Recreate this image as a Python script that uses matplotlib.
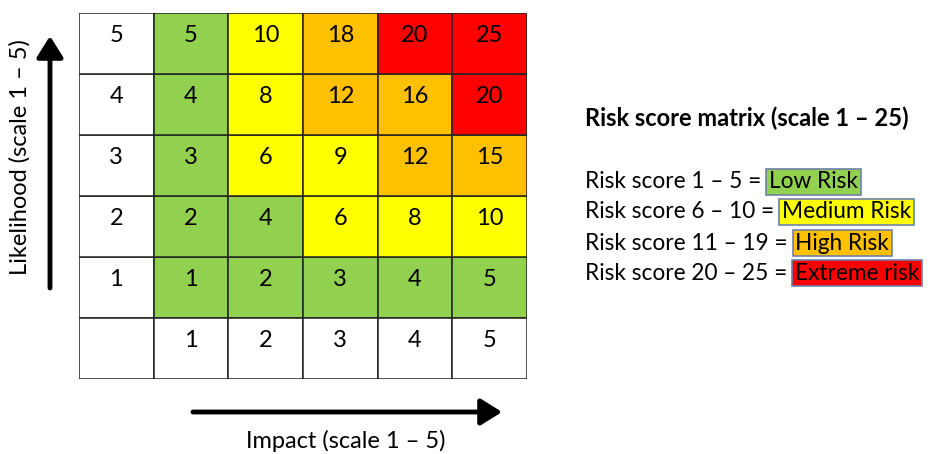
import matplotlib
matplotlib.use("Agg")
import matplotlib.pyplot as plt
from matplotlib.patches import Rectangle, FancyArrowPatch

plt.rcParams['font.family'] = ['Lato', 'DejaVu Sans']

impact = [1, 2, 3, 4, 5]
likelihood = [1, 2, 3, 4, 5]
# scores by likelihood row (1 at bottom .. 5 at top), columns impact 1..5
scores = [
    [1, 2, 3, 4, 5],
    [2, 4, 6, 8, 10],
    [3, 6, 9, 12, 15],
    [4, 8, 12, 16, 20],
    [5, 10, 18, 20, 25],
]
band_labels = ["Low Risk", "Medium Risk", "High Risk", "Extreme risk"]
band_ranges = ["1 – 5", "6 – 10", "11 – 19", "20 – 25"]
band_max = [5, 10, 19, 25]
band_colors = ["#92D050", "#FFFF00", "#FFC000", "#FF0000"]

def color_for(s):
    for m, c in zip(band_max, band_colors):
        if s <= m:
            return c
    return band_colors[-1]

W, H = 931, 454
fig = plt.figure(figsize=(W / 100, H / 100), dpi=100)

x0, x1, y0, y1 = 79, 527, 13, 379
ax = fig.add_axes([x0 / W, 1 - y1 / H, (x1 - x0) / W, (y1 - y0) / H])
ax.set_xlim(0, 6)
ax.set_ylim(0, 6)
ax.axis('off')

fs = 17
edge = "#222222"
for i, lk in enumerate(likelihood):
    row = i + 1
    ax.add_patch(Rectangle((0, row), 1, 1, facecolor='white', edgecolor=edge, lw=1.1))
    ax.text(0.5, row + 0.63, str(lk), ha='center', va='center', fontsize=fs)
    for j, s in enumerate(scores[i]):
        ax.add_patch(Rectangle((j + 1, row), 1, 1, facecolor=color_for(s), edgecolor=edge, lw=1.1))
        ax.text(j + 1.5, row + 0.63, str(s), ha='center', va='center', fontsize=fs)
ax.add_patch(Rectangle((0, 0), 1, 1, facecolor='white', edgecolor=edge, lw=1.1))
for j, im in enumerate(impact):
    ax.add_patch(Rectangle((j + 1, 0), 1, 1, facecolor='white', edgecolor=edge, lw=1.1))
    ax.text(j + 1.5, 0.63, str(im), ha='center', va='center', fontsize=fs)

oa = fig.add_axes([0, 0, 1, 1])
oa.set_xlim(0, W)
oa.set_ylim(H, 0)
oa.axis('off')
oa.patch.set_alpha(0)

oa.add_patch(FancyArrowPatch((50, 288), (50, 36), arrowstyle='-|>,head_length=8,head_width=5',
                             lw=3.5, color='black', mutation_scale=1.6, shrinkA=0, shrinkB=0))
oa.add_patch(FancyArrowPatch((193, 412), (502, 412), arrowstyle='-|>,head_length=8,head_width=5',
                             lw=3.5, color='black', mutation_scale=1.6, shrinkA=0, shrinkB=0))

oa.text(20, 157, "Likelihood (scale 1 – 5)", rotation=90, ha='center', va='center', fontsize=fs)
oa.text(346, 441, "Impact (scale 1 – 5)", ha='center', va='center', fontsize=fs)

oa.text(585, 118, "Risk score matrix (scale 1 – 25)", ha='left', va='center',
        fontsize=17, fontweight='bold')
lfs = 16.3
ys = [182, 212, 243, 273]
fig.canvas.draw()
for y, rng, lab, col in zip(ys, band_ranges, band_labels, band_colors):
    t = oa.text(585, y, f"Risk score {rng} = ", ha='left', va='center', fontsize=lfs)
    fig.canvas.draw()
    bb = t.get_window_extent()
    xr = bb.x1 + 2
    oa.text(xr, y, lab, ha='left', va='center', fontsize=lfs,
            bbox=dict(boxstyle='square,pad=0.12', facecolor=col, edgecolor='#7080A8', lw=1.2))

fig.savefig("out.png", dpi=100)
